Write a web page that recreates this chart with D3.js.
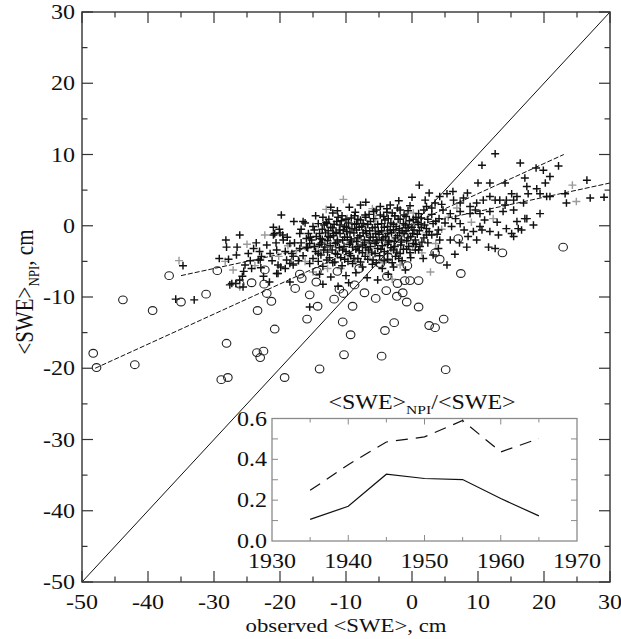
<!DOCTYPE html>
<html><head><meta charset="utf-8">
<script src="https://cdn.jsdelivr.net/npm/d3@7"></script>
<style>
html,body{margin:0;padding:0;background:#fff;}
svg{display:block;}
text{font-family:"Liberation Serif","Times New Roman",serif;fill:#111;}
</style></head>
<body>
<svg id="chart" width="621" height="639"></svg>
<script>
// ---------------- data ----------------
const xTicks = [-50,-40,-30,-20,-10,0,10,20,30];
const yTicks = [-50,-40,-30,-20,-10,0,10,20,30];
const xMinor = [-45,-35,-25,-15,-5,5,15,25];
const yMinor = [-45,-35,-25,-15,-5,5,15,25];

// circles (observed, NPI)
const circles = [
[-48.3,-17.9],[-47.8,-19.9],[-43.8,-10.4],[-42.0,-19.5],[-39.3,-11.9],[-36.8,-7.0],[-35.0,-10.7],[-31.2,-9.6],
[-29.5,-6.3],[-28.1,-16.5],[-28.9,-21.6],[-27.9,-21.3],[-26.1,-8.2],[-24.3,-8.0],[-23.4,-11.9],[-23.5,-17.8],
[-22.5,-17.6],[-23.0,-18.5],[-22.4,-8.2],[-22.0,-9.5],[-21.3,-10.6],[-20.8,-14.5],[-19.3,-21.3],[-22.3,-6.2],
[-17.7,-4.8],[-17.0,-6.8],[-17.7,-8.8],[-14.0,-20.1],
[-16.7,-7.4],[-15.5,-9.7],[-15.9,-13.1],[-14.3,-11.3],[-14.4,-6.4],[-14.5,-7.9],[-11.3,-6.4],[-11.0,-8.9],
[-10.4,-9.5],[-11.8,-10.3],[-10.5,-13.5],[-9.3,-15.3],[-9.0,-11.3],[-8.7,-8.3],[-8.0,-6.0],[-7.2,-9.4],
[-5.5,-10.2],[-4.8,-5.3],[-3.6,-4.4],[-3.8,-7.1],[-3.9,-9.1],[-4.1,-14.7],[-2.7,-13.6],[-2.2,-8.1],
[-2.3,-9.9],[-1.4,-9.4],[-0.8,-10.7],[-0.7,-5.6],[-1.1,-7.7],[-0.3,-7.7],[1.0,-7.7],[1.0,-11.4],
[2.6,-14.0],[3.5,-14.3],[4.8,-13.1],[3.5,-3.8],[4.2,-4.7],[7.0,-1.8],[7.4,-6.7],[13.7,-3.8],[22.9,-3.0],
[-10.3,-18.1],[-4.6,-18.3],[5.1,-20.2]
];

// black crosses
const crossesBlack = [
[-35.8,-10.3],[-33.0,-10.4],[-34.7,-5.6],[-29.2,-4.6],[-27.6,-8.3],[-26.7,-8.1],[-25.7,-7.1],[-26.6,-4.1],
[-24.3,-6.0],[-23.0,-4.8],[-22.5,-7.1],[-21.6,-7.9],[-20.5,-6.7],[-20.3,-5.5],[-18.5,-7.9],[-18.0,-5.5],
[-19.0,-4.8],[-15.5,-11.4],[-28.2,-2.0],[-26.1,-1.3],[-28.1,-3.0],[-26.5,-3.0],[-24.0,-3.2],[-21.0,-1.3],
[-20.1,-0.5],[-19.6,-1.3],[-17.0,-1.1],[-16.2,0.4],[-15.0,-0.1],[-18.5,-2.5],[-20.5,-3.4],[-23.1,-3.6],
[-22.8,-4.3],[-18.0,-4.3],[-16.0,-3.0],[-13.9,-1.8],[-13.4,-3.4],[-11.9,-1.1],[-12.9,0.3],[-19.8,1.5],
[-16.5,0.6],[-14.2,0.3],[-11.4,0.6],[0.0,4.0],[-0.3,2.8],[-3.8,2.4],[-4.8,2.7],[-5.8,2.0],[-7.1,1.5],
[-8.4,0.3],[-9.9,-0.8],[-20.8,-1.1],[-20.0,-1.0],[-19.5,-2.0],[-21.5,-3.9],[-19.2,-3.6],[-18.2,-3.9],
[-17.0,-3.2],[-15.5,-2.5],[-12.7,-1.5],[-15.7,-1.1],[-27.3,-8.1],[-26.1,-7.6],[-25.6,-8.6],[-20.3,-6.7],
[-19.2,-6.0],[-18.5,-5.3],[-23.3,-4.8],[-24.5,-4.9],[-25.3,-5.5],[-27.8,-4.7],
[12.6,10.1],[10.6,8.5],[16.4,8.8],[18.8,8.1],[19.9,7.8],[22.2,8.4],[20.9,6.9],[20.2,6.0],[17.1,6.7],
[14.1,6.0],[11.8,6.0],[10.0,6.0],[1.1,5.7],[26.5,6.4],[23.4,3.2],[27.0,3.9],[29.1,4.0],[23.2,4.5],
[20.9,4.1],[19.4,4.5],[18.9,5.2],[17.4,5.5],[17.6,4.5],[15.9,4.1],[15.1,4.5],[15.4,3.6],[14.3,3.6],
[13.3,3.6],[12.6,3.6],[11.8,4.1],[10.8,3.6],[9.8,3.2],[8.8,2.7],[7.8,3.9],[7.3,3.2],[6.3,3.6],[5.3,4.5],
[4.2,4.1],[3.5,3.2],[4.7,2.2],[5.8,1.7],[7.3,2.0],[8.8,1.7],[10.3,1.7],[11.8,2.0],[13.8,2.0],[15.4,2.2],
[16.9,3.2],[14.1,2.9],[19.4,1.7],[17.1,1.0],[15.9,0.6],[18.4,0.1],[16.6,-0.6],[15.1,-1.1],[14.3,-0.4],
[13.1,-1.3],[11.8,-0.8],[10.6,-0.6],[9.3,-0.8],[8.5,-1.5],[10.3,-0.1],[7.3,0.3],[6.0,-0.1],[8.3,-3.0],
[11.6,-3.0],[12.6,-3.2],[5.3,-5.5],[1.7,-4.6],[3.2,-4.1],[0.5,-3.4],[2.2,2.7],[-1.8,2.2],[-3.3,2.9],
[15.4,-1.5],[16.1,-0.4],[17.4,1.0],[20.4,4.1],
[-9.5,2.6],[-7.8,2.9],[-2.2,2.5],[1.8,2.2],[3.0,1.6],
[-13.5,1.2],[-12.0,1.8],[-10.6,1.4],[-9.2,1.1],[-6.5,1.6],[-4.3,1.3],[-3.0,1.8],[-1.2,1.5],[0.6,1.2],[2.4,0.9],[4.1,1.0],
[-14.8,-0.6],[-13.0,0.5],[-11.8,0.2],[-10.7,0.7],[-9.6,0.4],[-8.2,0.9],[-7.4,0.3],[-6.3,0.6],[-5.2,0.2],[-4.1,0.8],
[-3.2,0.4],[-2.1,0.9],[-1.3,0.3],[-0.4,0.7],[0.9,0.5],[1.9,0.1],[3.2,0.3],
[-13.6,-0.5],[-12.3,-0.2],[-11.0,-0.6],[-10.2,-0.1],[-9.1,-0.4],[-8.0,-0.2],[-7.0,-0.7],[-6.0,-0.3],[-5.1,-0.8],
[-4.2,-0.2],[-3.3,-0.6],[-2.4,-0.1],[-1.5,-0.7],[-0.6,-0.3],[0.3,-0.6],[1.4,-0.2],[2.6,-0.8],
[-16.0,-1.8],[-14.5,-1.5],[-13.1,-1.0],[-11.9,-1.4],[-10.9,-1.1],[-9.8,-1.6],[-8.8,-1.0],[-7.9,-1.4],[-6.9,-1.1],
[-5.9,-1.6],[-5.0,-1.2],[-4.0,-1.5],[-3.1,-1.0],[-2.2,-1.4],[-1.2,-1.1],[-0.2,-1.5],[0.8,-1.2],[1.8,-1.7],[3.0,-1.3],[4.2,-2.0],
[-16.8,-2.4],[-15.2,-2.0],[-14.0,-2.6],[-12.8,-2.1],[-11.6,-2.5],[-10.5,-2.0],[-9.5,-2.6],[-8.4,-2.2],[-7.5,-2.7],
[-6.5,-2.1],[-5.6,-2.5],[-4.6,-2.0],[-3.7,-2.6],[-2.7,-2.2],[-1.7,-2.7],[-0.8,-2.1],[0.2,-2.5],[1.2,-2.9],[2.4,-2.4],
[-15.8,-3.1],[-14.6,-3.6],[-13.2,-3.0],[-12.1,-3.4],[-11.0,-3.1],[-10.0,-3.6],[-9.0,-3.0],[-8.0,-3.5],[-7.0,-3.1],
[-6.1,-3.7],[-5.2,-3.2],[-4.2,-3.6],[-3.2,-3.1],[-2.3,-3.7],[-1.3,-3.3],[-0.3,-3.8],[1.0,-3.4],
[-16.5,-4.2],[-15.0,-4.6],[-13.8,-4.1],[-12.5,-4.5],[-11.3,-4.0],[-10.2,-4.7],[-9.3,-4.2],[-8.2,-4.6],[-7.1,-4.3],
[-5.9,-4.8],[-4.9,-4.2],[-3.7,-4.7],[-2.5,-4.3],[-1.5,-4.9],[-0.2,-4.5],
[-15.5,-5.3],[-13.5,-5.7],[-12.0,-5.2],[-10.6,-5.6],[-9.0,-5.3],[-7.5,-5.8],[-6.0,-5.4],[-4.5,-6.0],[-2.8,-5.8],[-1.0,-6.2],
[-14.0,-6.8],[-12.3,-7.2],[-10.0,-7.0],[-8.5,-6.6],[-6.8,-7.3],[-5.2,-7.6],[-13.5,-8.2],[-11.2,-8.5],[-3.6,-6.8],[-9.6,-8.0],
[-11.3,2.1],[-8.6,1.9],[-5.4,2.2],[-3.8,1.9],[-0.6,2.1],[1.0,1.7],
[-12.6,0.9],[-11.2,1.2],[-10.0,0.9],[-8.7,1.4],[-7.8,0.8],[-7.0,1.2],[-5.8,1.0],[-4.8,1.5],[-3.6,1.0],[-2.6,1.4],
[-1.8,0.9],[-0.9,1.3],[0.2,0.9],[1.4,1.1],[3.6,0.6],
[-13.3,0.1],[-12.0,-0.3],[-10.9,0.1],[-9.9,-0.2],[-8.7,0.2],[-7.6,-0.1],[-6.7,0.2],[-5.6,-0.2],[-4.6,0.3],[-3.7,-0.1],
[-2.8,0.2],[-1.9,-0.4],[-1.0,0.1],[0.0,-0.2],[1.0,0.2],[2.2,-0.4],[4.0,-0.6],
[-14.0,-1.1],[-12.7,-0.7],[-11.5,-0.9],[-10.4,-0.6],[-9.4,-1.0],[-8.4,-0.6],[-7.4,-1.0],[-6.4,-0.7],[-5.5,-1.1],
[-4.6,-0.7],[-3.7,-1.1],[-2.8,-0.6],[-1.9,-1.0],[-0.9,-0.7],[0.1,-1.1],[1.1,-0.7],[2.2,-1.3],
[-15.4,-1.6],[-13.6,-1.9],[-12.4,-1.6],[-11.3,-2.0],[-10.2,-1.6],[-9.2,-2.0],[-8.2,-1.7],[-7.2,-2.0],[-6.3,-1.6],
[-5.3,-2.0],[-4.4,-1.7],[-3.5,-2.1],[-2.5,-1.7],[-1.6,-2.0],[-0.6,-1.7],[0.5,-2.0],[1.5,-2.3],
[-14.8,-2.9],[-13.7,-2.4],[-12.4,-2.8],[-11.3,-2.3],[-10.3,-2.9],[-9.3,-2.3],[-8.2,-2.9],[-7.2,-2.4],[-6.3,-2.9],
[-5.4,-2.3],[-4.5,-2.8],[-3.6,-2.3],[-2.6,-2.9],[-1.6,-2.3],[-0.5,-2.9],[0.6,-2.6],
[-14.2,-3.9],[-12.8,-3.7],[-11.6,-3.9],[-10.5,-3.4],[-9.5,-3.9],[-8.5,-3.3],[-7.5,-3.8],[-6.6,-3.4],[-5.6,-3.9],
[-4.7,-3.3],[-3.7,-3.9],[-2.8,-3.4],[-1.8,-3.9],[-0.8,-3.3],
[-14.2,-5.0],[-12.9,-4.8],[-11.7,-5.1],[-10.8,-4.5],[-9.7,-5.0],[-8.8,-4.6],[-7.8,-5.1],[-6.7,-4.7],[-5.4,-5.2],
[-4.2,-4.9],[-3.0,-5.2],[-2.0,-4.6],
[-24.8,-3.9],[-23.6,-2.4],[-22.0,-2.7],[-21.2,-4.9],[-20.6,-2.4],[-19.9,-5.8],[-18.9,-1.6],[-17.8,-2.4],[-17.2,-4.9],
[-16.8,-0.5],[-25.5,-6.4],[-22.9,-5.9],[-21.0,-0.2],[-17.9,0.6],[-14.6,1.4],[-12.3,2.6],[-7.0,3.3],[-2.0,3.5],
[3.0,2.5],[2.6,4.6],
[5.0,0.4],[6.6,1.0],[7.9,-0.6],[4.5,3.0],[2.0,3.6],[6.2,4.8],[8.4,4.6],[9.6,2.2],[11.0,0.8],[12.9,0.5],
[5.8,-2.0],[3.8,-1.2],[7.2,-2.4],[9.8,-2.0],[6.5,-4.0],[4.0,-3.2]
];

// gray crosses
const crossesGray = [
[-35.3,-4.9],[-28.3,-5.0],[-26.1,-8.6],[-22.3,-1.3],[-10.4,3.7],[24.3,5.7],[24.9,3.4],
[-17.5,-3.5],[-16.2,-5.0],[-14.2,-2.8],[-12.8,-6.0],[-11.5,-3.0],[-9.8,1.0],[-8.6,-5.0],[-7.2,0.0],[-6.4,-4.0],
[-5.5,1.0],[-4.4,-5.2],[-3.5,-2.0],[-2.6,1.3],[-1.8,-5.5],[-0.8,0.2],[0.1,-2.8],[1.5,-3.8],[2.2,-1.0],[3.6,-2.5],
[4.5,-0.5],[5.5,1.2],[6.8,2.5],[-18.8,-2.8],[-20.2,-4.3],[-23.8,-5.6],[-25.0,-2.6],[-27.1,-6.2],[-13.0,2.3],
[-6.0,2.4],[0.2,1.8],[9.0,0.5],[12.3,1.0],[-15.0,-6.5],[-10.8,-6.0],[-3.0,-7.5],[2.8,-6.5]
];

// reference lines
const diagX = [-50,30], diagY = [-50,30];
const fit1X = [-48,23], fit1Y = [-20,10];
const fit2X = [-35,30], fit2Y = [-7,6];

// inset
const insetYears = [1935,1940,1945,1950,1955,1960,1965];
const ratioSolid = [0.106,0.170,0.327,0.306,0.301,0.208,0.123];
const ratioDashed = [0.248,0.374,0.485,0.510,0.590,0.436,0.502];
const insetXTicks = [1930,1940,1950,1960,1970];
const insetYTicks = [0.0,0.2,0.4,0.6];

// ---------------- drawing ----------------
const svg = d3.select('#chart');
const SX = 1.2; // horizontal glyph stretch
const x = d3.scaleLinear().domain([-50,30]).range([82,610]);
const y = d3.scaleLinear().domain([-50,30]).range([582,12]);
const axisCol = '#333';

function stext(g, tx, ty, str, anchor, size){
  return g.append('text')
    .attr('transform', `translate(${tx},${ty}) scale(${SX},1)`)
    .attr('text-anchor', anchor).attr('font-size', size).text(str);
}

// diagonal
svg.append('line').attr('x1', x(diagX[0])).attr('y1', y(diagY[0]))
  .attr('x2', x(diagX[1])).attr('y2', y(diagY[1]))
  .attr('stroke','#111').attr('stroke-width',1);

// points
const crossPath = d => `M${x(d[0])-4},${y(d[1])}h8M${x(d[0])},${y(d[1])-3.8}v7.6`;
svg.append('g').attr('stroke','#9a9a9a').attr('stroke-width',1.4).attr('fill','none')
  .selectAll('path').data(crossesGray).join('path').attr('d', crossPath);
svg.append('g').attr('stroke','#111').attr('stroke-width',1.45).attr('fill','none')
  .selectAll('path').data(crossesBlack).join('path').attr('d', crossPath);
svg.append('g').attr('stroke','#222').attr('stroke-width',1.1).attr('fill','none')
  .selectAll('ellipse').data(circles).join('ellipse')
  .attr('cx', d => x(d[0])).attr('cy', d => y(d[1])).attr('rx',4.3).attr('ry',3.9);

// fits
[[fit1X,fit1Y],[fit2X,fit2Y]].forEach(([fx,fy]) => {
  svg.append('line').attr('x1',x(fx[0])).attr('y1',y(fy[0])).attr('x2',x(fx[1])).attr('y2',y(fy[1]))
    .attr('stroke','#111').attr('stroke-width',1).attr('stroke-dasharray','5,2');
});

// frame & ticks
const fr = svg.append('g');
fr.append('rect').attr('x',x(-50)).attr('y',y(30)).attr('width',x(30)-x(-50)).attr('height',y(-50)-y(30))
  .attr('fill','none').attr('stroke',axisCol).attr('stroke-width',1.4);
const tk = fr.append('g').attr('stroke',axisCol).attr('stroke-width',1.2);
xTicks.concat(xMinor).forEach(v => {
  const L = xTicks.includes(v) ? 11 : 5.5;
  tk.append('line').attr('x1',x(v)).attr('x2',x(v)).attr('y1',y(-50)).attr('y2',y(-50)-L);
  tk.append('line').attr('x1',x(v)).attr('x2',x(v)).attr('y1',y(30)).attr('y2',y(30)+L);
});
yTicks.concat(yMinor).forEach(v => {
  const L = yTicks.includes(v) ? 11 : 5.5;
  tk.append('line').attr('y1',y(v)).attr('y2',y(v)).attr('x1',x(-50)).attr('x2',x(-50)+L);
  tk.append('line').attr('y1',y(v)).attr('y2',y(v)).attr('x1',x(30)).attr('x2',x(30)-L);
});
xTicks.forEach(v => stext(svg, x(v), 609, String(v), 'middle', 20));
yTicks.forEach(v => stext(svg, 75, y(v)+7, String(v), 'end', 20));

// axis titles
svg.append('text').attr('transform',`translate(346,632) scale(${SX},1)`)
  .attr('text-anchor','middle').attr('font-size',19).text('observed <SWE>, cm');
const yt = svg.append('text').attr('transform',`translate(33,292) scale(1.15,1) rotate(-90)`)
  .attr('text-anchor','middle').attr('font-size',21);
yt.append('tspan').text('<SWE>');
yt.append('tspan').attr('font-size',13).attr('dy',5).text('NPI');
yt.append('tspan').attr('dy',-5).text(', cm');

// ---------------- inset ----------------
const ix = d3.scaleLinear().domain([1930,1970]).range([272,577]);
const iy = d3.scaleLinear().domain([0,0.6]).range([541,418.5]);
const ins = svg.append('g');
ins.append('rect').attr('x',ix(1930)).attr('y',iy(0.6)).attr('width',ix(1970)-ix(1930)).attr('height',iy(0)-iy(0.6))
  .attr('fill','#fff').attr('stroke','#8a8a8a').attr('stroke-width',1.3);
const itk = ins.append('g').attr('stroke','#8a8a8a').attr('stroke-width',1);
d3.range(1935,1970,5).forEach(v => {
  const L = v % 10 === 0 ? 6 : 4;
  itk.append('line').attr('x1',ix(v)).attr('x2',ix(v)).attr('y1',iy(0)).attr('y2',iy(0)-L);
  itk.append('line').attr('x1',ix(v)).attr('x2',ix(v)).attr('y1',iy(0.6)).attr('y2',iy(0.6)+L);
});
d3.range(0.1,0.6,0.1).forEach(v => {
  itk.append('line').attr('y1',iy(v)).attr('y2',iy(v)).attr('x1',ix(1930)).attr('x2',ix(1930)+6);
  itk.append('line').attr('y1',iy(v)).attr('y2',iy(v)).attr('x1',ix(1970)).attr('x2',ix(1970)-6);
});
const lineGen = d3.line().x((d,i) => ix(insetYears[i])).y(d => iy(d));
ins.append('path').attr('d', lineGen(ratioSolid)).attr('fill','none').attr('stroke','#111').attr('stroke-width',1.2);
ins.append('path').attr('d', lineGen(ratioDashed)).attr('fill','none').attr('stroke','#111').attr('stroke-width',1.2)
  .attr('stroke-dasharray','12,8');
insetXTicks.forEach(v => stext(ins, ix(v), 568, String(v), 'middle', 20));
insetYTicks.forEach(v => stext(ins, 267, iy(v)+7, v.toFixed(1), 'end', 20));
const it = ins.append('text').attr('transform',`translate(422,409) scale(${SX},1)`)
  .attr('text-anchor','middle').attr('font-size',20);
it.append('tspan').text('<SWE>');
it.append('tspan').attr('font-size',13).attr('dy',5).text('NPI');
it.append('tspan').attr('dy',-5).text('/<SWE>');
</script>
</body></html>
